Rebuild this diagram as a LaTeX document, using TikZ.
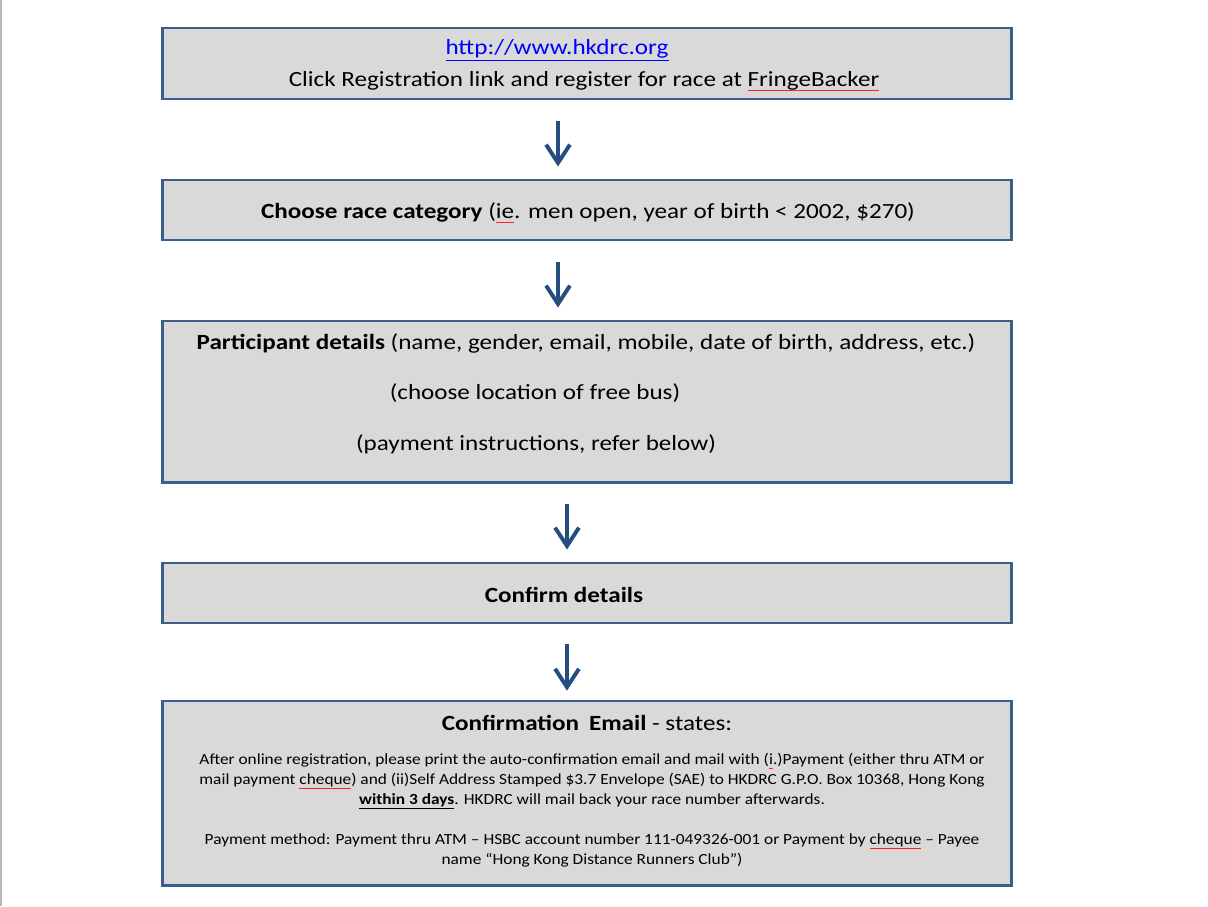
\documentclass[tikz,border=0pt]{standalone}
\usepackage{fontspec}
\setmainfont{Carlito}
\usetikzlibrary{arrows.meta,positioning}
\definecolor{boxline}{HTML}{3A5F8C}
\definecolor{boxfill}{HTML}{D9D9D9}
\definecolor{arrowblue}{HTML}{264D80}
\definecolor{linkblue}{HTML}{0000FF}
\definecolor{spellred}{HTML}{FF2020}
\newlength{\spellwd}
\newcommand{\ul}[1]{$\underline{\hbox{#1}}$}
\newcommand{\spell}[1]{\settowidth{\spellwd}{#1}\rlap{\color{spellred}\rule[-3.2pt]{\spellwd}{0.8pt}}#1}
\tikzset{
  stepbox/.style={draw=boxline, fill=boxfill, line width=2.1pt, inner sep=0pt, minimum width=21.2cm},
  flow/.style={-{Straight Barb[length=13pt,width=17pt]}, arrowblue, line width=2.8pt, shorten <=0.52cm, shorten >=0.3cm},
  bigtext/.style={inner sep=0pt, transform shape, xscale=1.16, font=\fontsize{15.4}{18}\selectfont},
  smalltext/.style={inner sep=0pt, align=center, transform shape, xscale=1.12, font=\fontsize{11}{14.2}\selectfont},
}

\begin{document}
\begin{tikzpicture}[x=0.025cm, y=-0.025cm]

  \useasboundingbox (0,0) rectangle (1208,906);

  % Page edge
  \draw[gray!55, line width=1.4pt] (1,0) -- (1,906);

  % Boxes
  \node[stepbox, minimum height=1.775cm] (reg) at (587,63.5) {};
  \node[stepbox, minimum height=1.5cm] (cat) at (587,210) {};
  \node[stepbox, minimum height=4.025cm] (part) at (587,401.5) {};
  \node[stepbox, minimum height=1.5cm] (conf) at (587,593) {};
  \node[stepbox, minimum height=4.6cm] (mail) at (587,793) {};

  % Texts
  \node[bigtext] (url) at (557,50) {\textcolor{linkblue}{\ul{http://www.hkdrc.org}}};
  \node[bigtext] (click) at (584,81) {Click Registration link and register for race at \spell{FringeBacker}};
  \node[bigtext] (cattext) at (588,213) {\textbf{Choose race category} (\spell{ie}. men open, year of birth < 2002, \$270)};
  \node[bigtext] (parttext) at (586,343) {\textbf{Participant details} (name, gender, email, mobile, date of birth, address, etc.)};
  \node[bigtext] (bus) at (535,393) {(choose location of free bus)};
  \node[bigtext] (pay) at (536,444) {(payment instructions, refer below)};
  \node[bigtext] (conftext) at (564,595) {\textbf{Confirm details}};
  \node[bigtext] (mailtitle) at (587,723) {\textbf{Confirmation\ \,Email} - states:};
  \node[smalltext] (mailtext) at (592,810) {%
    After online registration, please print the auto-confirmation email and mail with (\spell{i}.)Payment (either thru ATM or\\
    mail payment \spell{cheque}) and (ii)Self Address Stamped \$3.7 Envelope (SAE) to HKDRC G.P.O. Box 10368, Hong Kong\\
    \ul{\textbf{within 3 days}}. HKDRC will mail back your race number afterwards.\\[14.2pt]
    Payment method: Payment thru ATM -- HSBC account number 111-049326-001 or Payment by \spell{cheque} -- Payee\\
    name ``Hong Kong Distance Runners Club'')};

  % Arrows
  \coordinate (a1) at (558,0);
  \coordinate (a2) at (567,0);
  \draw[flow] (reg.south -| a1) -- (cat.north -| a1);
  \draw[flow] (cat.south -| a1) -- (part.north -| a1);
  \draw[flow] (part.south -| a2) -- (conf.north -| a2);
  \draw[flow, shorten <=0.48cm, shorten >=0.22cm] (conf.south -| a2) -- (mail.north -| a2);

\end{tikzpicture}
\end{document}
